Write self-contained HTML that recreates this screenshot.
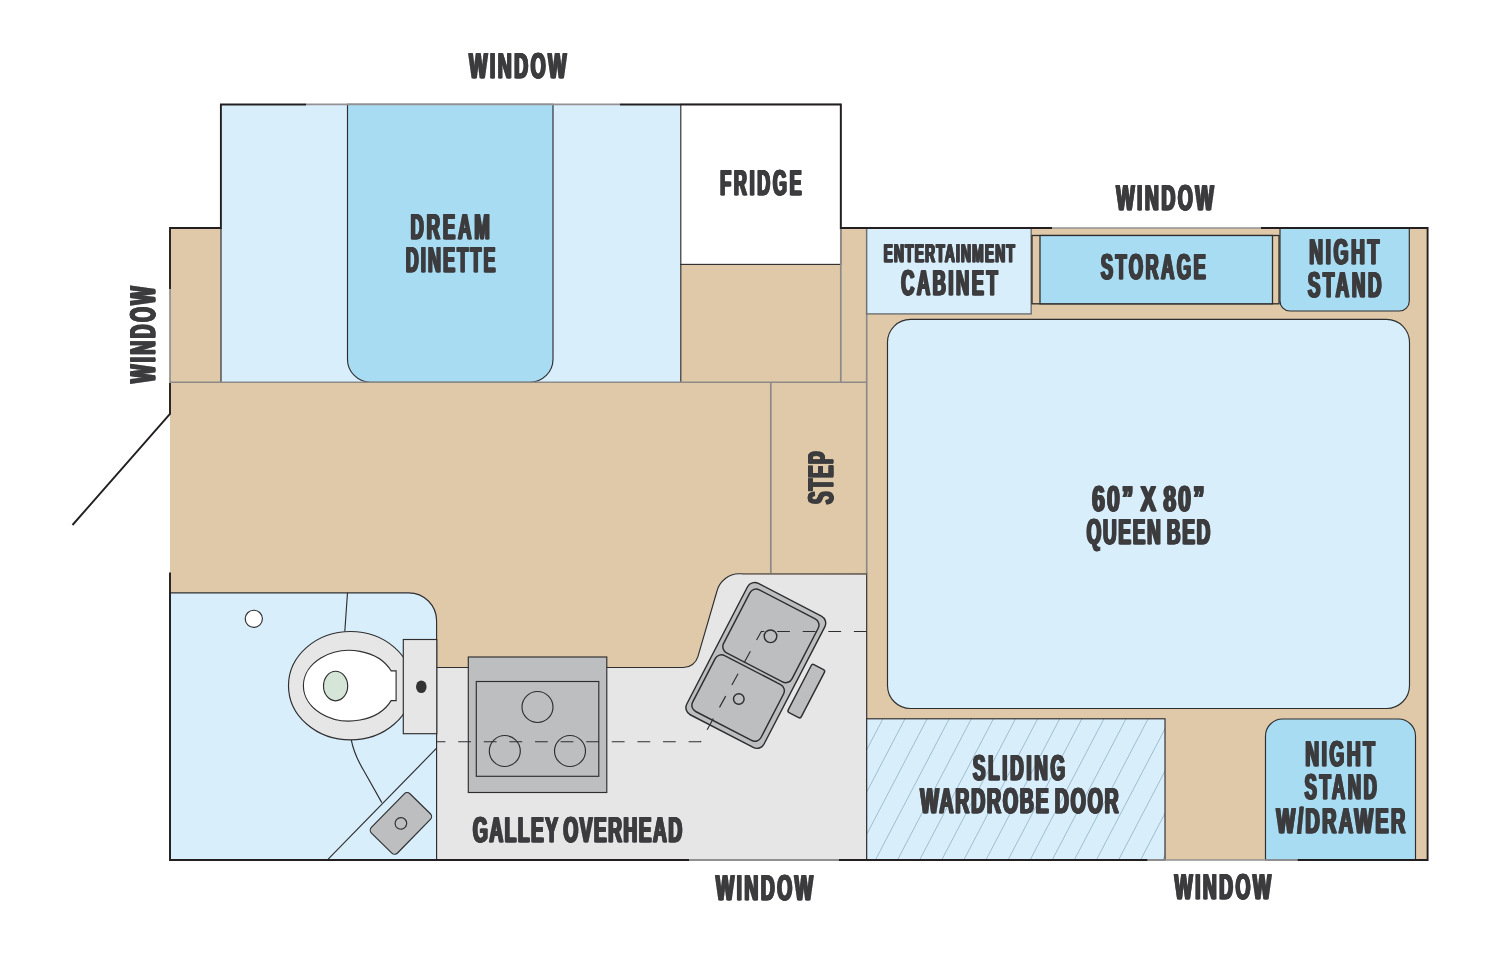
<!DOCTYPE html>
<html lang="en">
<head>
<meta charset="utf-8">
<title>Floor plan</title>
<style>
html,body{margin:0;padding:0;background:#fff;}
body{width:1500px;height:960px;overflow:hidden;font-family:"Liberation Sans",sans-serif;}
svg{display:block;will-change:transform;}
text{white-space:pre;}
</style>
</head>
<body>
<svg width="1500" height="960" viewBox="0 0 1500 960">
<rect x="170" y="228" width="1258" height="632" fill="#dfc9a8"/>
<rect x="221" y="104.4" width="460" height="277.8" fill="#d9eefb"/>
<path d="M347.5 104.4V359.2a23 23 0 0 0 23 23H530a23 23 0 0 0 23-23V104.4Z" fill="#a8dcf3" stroke="#2e2e30" stroke-width="1.15"/>
<rect x="680.8" y="104.4" width="160" height="160" fill="#fff" stroke="#2e2e30" stroke-width="1.15"/>
<path d="M221 228V382.2M680.8 264V382.2" fill="none" stroke="#2e2e30" stroke-width="1.15"/>
<path d="M840.8 228V382.2M866.7 228V574M770.8 382.2V574" fill="none" stroke="#8d8a87" stroke-width="1.7"/>
<path d="M170 382.2H866.7" fill="none" stroke="#8d8a87" stroke-width="1.4"/>
<path d="M170 592.8H408.6a28 28 0 0 1 28 28V860H170Z" fill="#d9eefb" stroke="#2e2e30" stroke-width="1.15"/>
<path d="M436.6 667.5H683.5a15 15 0 0 0 14.4-10.8L717 591a23 23 0 0 1 22-17.2H866.7V860H436.6Z" fill="#e7e6e7" stroke="#2e2e30" stroke-width="1.15"/>
<path d="M742 574H866.7" fill="none" stroke="#85796c" stroke-width="1.5"/>
<circle cx="253.8" cy="618.8" r="8.6" fill="#fff" stroke="#2e2e30" stroke-width="1.15"/>
<path d="M347.5 592.8L344.8 631.5M351.3 739.9C353.5 752 358 761 364 771L381.8 802.6M436.6 748.2L328.2 859.1" fill="none" stroke="#2e2e30" stroke-width="1.15"/>
<ellipse cx="350.5" cy="685.7" rx="62" ry="54.2" fill="#e7e6e7" stroke="#2e2e30" stroke-width="1.15"/>
<path d="M391.1 670.8A46 35.3 0 1 0 391.1 700.6H396.1V670.8Z" fill="#fff" stroke="#2e2e30" stroke-width="1.15"/>
<ellipse cx="335.6" cy="686" rx="12.1" ry="14.8" fill="#d5e5d8" stroke="#2e2e30" stroke-width="1.15"/>
<rect x="403.3" y="639.5" width="33.5" height="94.2" fill="#e7e6e7" stroke="#2e2e30" stroke-width="1.15"/>
<ellipse cx="421.3" cy="686.8" rx="5.3" ry="6.3" fill="#333"/>
<g transform="translate(400.9 823.4) rotate(-45.6)"><rect x="-27.5" y="-18.3" width="55" height="36.6" rx="4" fill="#bcbec0" stroke="#2e2e30" stroke-width="1.15"/><circle r="5.8" fill="none" stroke="#2e2e30" stroke-width="1.15"/></g>
<rect x="468.3" y="657" width="138.5" height="135.5" fill="#bcbec0" stroke="#2e2e30" stroke-width="1.15"/>
<rect x="476.3" y="681.5" width="122.5" height="94.8" fill="#bcbec0" stroke="#2e2e30" stroke-width="1.15"/>
<circle cx="537.5" cy="707" r="15.5" fill="none" stroke="#2e2e30" stroke-width="1.15"/>
<circle cx="504.8" cy="751" r="15.5" fill="none" stroke="#2e2e30" stroke-width="1.15"/>
<circle cx="570" cy="751" r="15.5" fill="none" stroke="#2e2e30" stroke-width="1.15"/>
<g transform="translate(755.8 665.4) rotate(27.4)"><rect x="-43.5" y="-74" width="87" height="148" rx="8" fill="#bcbec0" stroke="#2e2e30" stroke-width="1.45"/><rect x="-38.7" y="-68.7" width="77" height="71" rx="7" fill="#bcbec0" stroke="#2e2e30" stroke-width="1.45"/><rect x="-39.2" y="5.6" width="77" height="63" rx="7" fill="#bcbec0" stroke="#2e2e30" stroke-width="1.45"/></g>
<g transform="translate(806.3 691.1) rotate(27.4)"><rect x="-7.4" y="-27" width="14.8" height="54" rx="2" fill="#bcbec0" stroke="#2e2e30" stroke-width="1.45"/></g>
<circle cx="770.5" cy="636.3" r="6.3" fill="none" stroke="#2e2e30" stroke-width="1.45"/>
<circle cx="738.8" cy="699" r="5.3" fill="none" stroke="#2e2e30" stroke-width="1.45"/>
<path d="M866.7 631.5H761.3L700.6 741.7H436.6" fill="none" stroke="#2e2e30" stroke-width="1.15" stroke-dasharray="12.8 12.8"/>
<rect x="866.7" y="228" width="164.5" height="85.9" fill="#d9eefb" stroke="#707072" stroke-width="1.4"/>
<rect x="1032" y="235.5" width="247" height="68.3" fill="#dfc9a8" stroke="#2e2e30" stroke-width="1.3"/>
<rect x="1040" y="235.5" width="232.5" height="68.3" fill="#a8dcf3" stroke="#2e2e30" stroke-width="1.3"/>
<path d="M1280 228V301a10 10 0 0 0 10 10H1399.3a10 10 0 0 0 10-10V228Z" fill="#a8dcf3" stroke="#2e2e30" stroke-width="1.15"/>
<rect x="887.5" y="319.3" width="522" height="389.2" rx="23" fill="#d9eefb" stroke="#2e2e30" stroke-width="1.15"/>
<defs><pattern id="hatch" patternUnits="userSpaceOnUse" width="22.1" height="40" patternTransform="translate(875.8 858.3) skewX(-27.6)"><line x1="0" y1="0" x2="0" y2="40" stroke="#7fa3b6" stroke-width="1.3"/></pattern></defs>
<rect x="866.7" y="718.8" width="298.3" height="141.2" fill="#d9eefb"/>
<rect x="866.7" y="718.8" width="298.3" height="141.2" fill="url(#hatch)" stroke="#2e2e30" stroke-width="1.15"/>
<path d="M1265.5 860V736a17 17 0 0 1 17-17H1398.5a17 17 0 0 1 17 17V860Z" fill="#a8dcf3" stroke="#2e2e30" stroke-width="1.15"/>
<path d="M306 104.45H220.9V228H170V289M170 382.9V414L72.5 525M170 572.5V860H689M839 860H1147.5M1297.5 860H1427.6V228H1261M1052 228H840.8V104.45H620" fill="none" stroke="#231f20" stroke-width="1.9" stroke-linejoin="miter"/>
<path d="M306 104.45H620M170 289V382.9M689 860H839M1147.5 860H1297.5M1052 228H1261" fill="none" stroke="#939193" stroke-width="1.7"/>
<g font-family="'Liberation Sans', sans-serif" font-weight="bold" fill="#3d3d3f" stroke="#3d3d3f" stroke-width="0.5" stroke-linejoin="miter" text-rendering="geometricPrecision">
<text transform="translate(469.20 77.85) scale(0.5414 1)" font-size="35.76" textLength="179.63" lengthAdjust="spacing" style="text-shadow:1.57px 0 0 #3d3d3f,-1.57px 0 0 #3d3d3f,0.78px 0 0 #3d3d3f,-0.78px 0 0 #3d3d3f">WINDOW</text>
<text transform="translate(410.49 238.55) scale(0.5148 1)" font-size="35.76" textLength="153.96" lengthAdjust="spacing" style="text-shadow:1.65px 0 0 #3d3d3f,-1.65px 0 0 #3d3d3f,0.83px 0 0 #3d3d3f,-0.83px 0 0 #3d3d3f">DREAM</text>
<text transform="translate(405.74 271.95) scale(0.4988 1)" font-size="35.76" textLength="179.71" lengthAdjust="spacing" style="text-shadow:1.70px 0 0 #3d3d3f,-1.70px 0 0 #3d3d3f,0.85px 0 0 #3d3d3f,-0.85px 0 0 #3d3d3f">DINETTE</text>
<text transform="translate(720.20 195.10) scale(0.5019 1)" font-size="35.76" textLength="162.08" lengthAdjust="spacing" style="text-shadow:1.69px 0 0 #3d3d3f,-1.69px 0 0 #3d3d3f,0.85px 0 0 #3d3d3f,-0.85px 0 0 #3d3d3f">FRIDGE</text>
<text transform="translate(1116.27 209.80) scale(0.5424 1)" font-size="35.76" textLength="179.48" lengthAdjust="spacing" style="text-shadow:1.57px 0 0 #3d3d3f,-1.57px 0 0 #3d3d3f,0.78px 0 0 #3d3d3f,-0.78px 0 0 #3d3d3f">WINDOW</text>
<text transform="translate(883.57 262.15) scale(0.5381 1)" font-size="25.58" textLength="243.85" lengthAdjust="spacing" style="text-shadow:1.27px 0 0 #3d3d3f,-1.27px 0 0 #3d3d3f,0.64px 0 0 #3d3d3f,-0.64px 0 0 #3d3d3f">ENTERTAINMENT</text>
<text transform="translate(901.13 295.45) scale(0.5129 1)" font-size="35.76" textLength="188.25" lengthAdjust="spacing" style="text-shadow:1.66px 0 0 #3d3d3f,-1.66px 0 0 #3d3d3f,0.83px 0 0 #3d3d3f,-0.83px 0 0 #3d3d3f">CABINET</text>
<text transform="translate(1100.81 279.30) scale(0.5075 1)" font-size="35.76" textLength="206.69" lengthAdjust="spacing" style="text-shadow:1.67px 0 0 #3d3d3f,-1.67px 0 0 #3d3d3f,0.84px 0 0 #3d3d3f,-0.84px 0 0 #3d3d3f">STORAGE</text>
<text transform="translate(1309.27 263.85) scale(0.5322 1)" font-size="35.76" textLength="131.39" lengthAdjust="spacing" style="text-shadow:1.60px 0 0 #3d3d3f,-1.60px 0 0 #3d3d3f,0.80px 0 0 #3d3d3f,-0.80px 0 0 #3d3d3f">NIGHT</text>
<text transform="translate(1307.88 297.05) scale(0.5228 1)" font-size="35.76" textLength="140.83" lengthAdjust="spacing" style="text-shadow:1.63px 0 0 #3d3d3f,-1.63px 0 0 #3d3d3f,0.81px 0 0 #3d3d3f,-0.81px 0 0 #3d3d3f">STAND</text>
<text transform="translate(1092.16 511.10) scale(0.6400 1)" font-size="35.76" textLength="175.42" lengthAdjust="spacing" style="word-spacing:-5.01px;text-shadow:1.33px 0 0 #3d3d3f,-1.33px 0 0 #3d3d3f,0.66px 0 0 #3d3d3f,-0.66px 0 0 #3d3d3f">60” X 80”</text>
<text transform="translate(1086.57 544.20) scale(0.5274 1)" font-size="35.76" textLength="234.54" lengthAdjust="spacing" style="word-spacing:-5.01px;text-shadow:1.61px 0 0 #3d3d3f,-1.61px 0 0 #3d3d3f,0.81px 0 0 #3d3d3f,-0.81px 0 0 #3d3d3f">QUEEN BED</text>
<text transform="translate(472.97 841.85) scale(0.5354 1)" font-size="35.76" textLength="390.73" lengthAdjust="spacing" style="word-spacing:-5.01px;text-shadow:1.59px 0 0 #3d3d3f,-1.59px 0 0 #3d3d3f,0.79px 0 0 #3d3d3f,-0.79px 0 0 #3d3d3f">GALLEY OVERHEAD</text>
<text transform="translate(715.80 899.55) scale(0.5424 1)" font-size="35.76" textLength="179.17" lengthAdjust="spacing" style="text-shadow:1.57px 0 0 #3d3d3f,-1.57px 0 0 #3d3d3f,0.78px 0 0 #3d3d3f,-0.78px 0 0 #3d3d3f">WINDOW</text>
<text transform="translate(972.87 779.95) scale(0.5268 1)" font-size="35.76" textLength="175.20" lengthAdjust="spacing" style="text-shadow:1.61px 0 0 #3d3d3f,-1.61px 0 0 #3d3d3f,0.81px 0 0 #3d3d3f,-0.81px 0 0 #3d3d3f">SLIDING</text>
<text transform="translate(920.28 813.20) scale(0.5483 1)" font-size="35.76" textLength="361.82" lengthAdjust="spacing" style="word-spacing:-5.01px;text-shadow:1.55px 0 0 #3d3d3f,-1.55px 0 0 #3d3d3f,0.78px 0 0 #3d3d3f,-0.78px 0 0 #3d3d3f">WARDROBE DOOR</text>
<text transform="translate(1305.30 765.85) scale(0.5304 1)" font-size="35.76" textLength="131.09" lengthAdjust="spacing" style="text-shadow:1.60px 0 0 #3d3d3f,-1.60px 0 0 #3d3d3f,0.80px 0 0 #3d3d3f,-0.80px 0 0 #3d3d3f">NIGHT</text>
<text transform="translate(1304.70 799.45) scale(0.5096 1)" font-size="35.76" textLength="141.54" lengthAdjust="spacing" style="text-shadow:1.67px 0 0 #3d3d3f,-1.67px 0 0 #3d3d3f,0.83px 0 0 #3d3d3f,-0.83px 0 0 #3d3d3f">STAND</text>
<text transform="translate(1276.46 832.55) scale(0.5558 1)" font-size="35.76" textLength="231.93" lengthAdjust="spacing" style="text-shadow:1.53px 0 0 #3d3d3f,-1.53px 0 0 #3d3d3f,0.76px 0 0 #3d3d3f,-0.76px 0 0 #3d3d3f">W/DRAWER</text>
<text transform="translate(1174.49 899.30) scale(0.5373 1)" font-size="35.76" textLength="179.73" lengthAdjust="spacing" style="text-shadow:1.58px 0 0 #3d3d3f,-1.58px 0 0 #3d3d3f,0.79px 0 0 #3d3d3f,-0.79px 0 0 #3d3d3f">WINDOW</text>
<text transform="translate(154.95 382.91) rotate(-90) scale(0.5386 1)" font-size="35.76" textLength="179.04" lengthAdjust="spacing" style="text-shadow:1.58px 0 0 #3d3d3f,-1.58px 0 0 #3d3d3f,0.79px 0 0 #3d3d3f,-0.79px 0 0 #3d3d3f">WINDOW</text>
<text transform="translate(833.35 504.11) rotate(-90) scale(0.5279 1)" font-size="35.76" textLength="99.63" lengthAdjust="spacing" style="text-shadow:1.61px 0 0 #3d3d3f,-1.61px 0 0 #3d3d3f,0.81px 0 0 #3d3d3f,-0.81px 0 0 #3d3d3f">STEP</text>
</g>
</svg>
</body>
</html>
